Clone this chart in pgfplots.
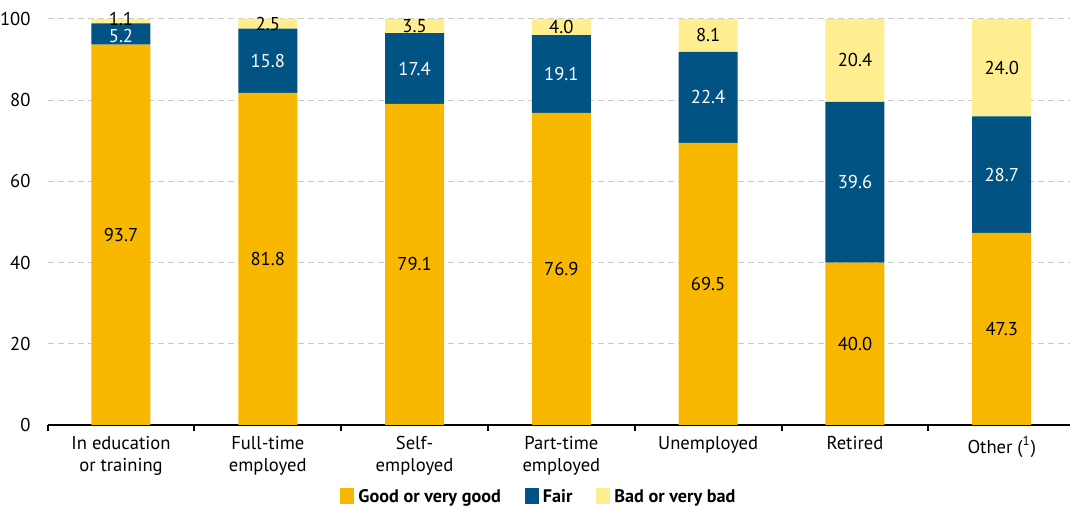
\documentclass[border=0pt]{standalone}
\usepackage{pgfplots}
\pgfplotsset{compat=1.18}
\usepackage{pgfplotstable}
\usepackage{fontspec}
\setmainfont{PT Sans}
\definecolor{cgood}{HTML}{F9B800}
\definecolor{cfair}{HTML}{005382}
\definecolor{cbad}{HTML}{FEEE90}
\definecolor{cgrid}{HTML}{C8C8C8}

\pgfplotstableread{
x good fair bad
0 93.7 5.2 1.1
1 81.8 15.8 2.5
2 79.1 17.4 3.5
3 76.9 19.1 4.0
4 69.5 22.4 8.1
5 40.0 39.6 20.4
6 47.3 28.7 24.0
}\datatable

% label positions (segment middles) and label texts
\pgfplotstableread{
x ygood lgood yfair lfair ybad lbad
0 46.85 93.7 95.90 5.2 100.0 1.1
1 40.90 81.8 89.70 15.8 98.85 2.5
2 39.55 79.1 87.80 17.4 98.25 3.5
3 38.45 76.9 86.45 19.1 98.00 4.0
4 34.75 69.5 80.70 22.4 95.95 8.1
5 20.00 40.0 59.80 39.6 89.80 20.4
6 23.65 47.3 61.65 28.7 88.00 24.0
}\labeltable

\begin{document}
\fontsize{9.3}{11}\selectfont
\begin{tikzpicture}
\path[use as bounding box] (-23.8pt,-40.5pt) rectangle (511.2pt,212.5pt);
\pgfplotsset{
  common/.style={
    scale only axis, width=511.2pt, height=203pt,
    xmin=-0.5, xmax=6.465, ymin=0, ymax=100,
    font=\fontsize{9.3}{11}\selectfont,
  }
}
\begin{axis}[common,
  ybar stacked, bar width=29.5pt,
  axis x line*=bottom, axis y line*=left,
  y axis line style={draw=none},
  x axis line style={line width=1pt, black},
  ytick={0,20,40,60,80,100},
  ytick style={draw=none},
  yticklabel style={xshift=-1pt},
  /pgf/number format/assume math mode=true,
  ymajorgrids, grid style={cgrid, line width=0.5pt, dash pattern=on 3pt off 2pt},
  xtick={0,1,2,3,4,5,6},
  xticklabels={In education\\or training, Full-time\\employed, Self-\\employed, Part-time\\employed, Unemployed, Retired, Other (\textsuperscript{1})},
  xticklabel style={align=center, yshift=2pt},
  major x tick style={draw=none},
  minor xtick={-0.5,0.5,1.5,2.5,3.5,4.5,5.5},
  minor x tick style={line width=1pt, black},
  minor tick length=3pt,
  tick align=outside,
  legend columns=3,
  legend style={at={(axis description cs:0.4816,-0.178)}, anchor=center, draw=none, fill=none,
    font=\fontsize{9.1}{10}\selectfont\bfseries,
    /tikz/every even column/.append style={column sep=10pt}},
  legend image code/.code={\fill[#1] (0pt,-3.5pt) rectangle (7pt,4.7pt);},
]
\addplot[fill=cgood, draw=none] table[x=x, y=good] {\datatable};
\addlegendentry{Good or very good}
\addplot[fill=cfair, draw=none] table[x=x, y=fair] {\datatable};
\addlegendentry{Fair}
\addplot[fill=cbad, draw=none] table[x=x, y=bad] {\datatable};
\addlegendentry{Bad or very bad}
\end{axis}
\begin{axis}[common, hide axis, clip=false]
\addplot[draw=none, mark=none, nodes near coords, point meta=explicit symbolic,
  every node near coord/.append style={anchor=center, text=black, font=\fontsize{9.3}{10}\selectfont}]
  table[x=x, y=ygood, meta=lgood] {\labeltable};
\addplot[draw=none, mark=none, nodes near coords, point meta=explicit symbolic,
  every node near coord/.append style={anchor=center, text=white, font=\fontsize{9.3}{10}\selectfont}]
  table[x=x, y=yfair, meta=lfair] {\labeltable};
\addplot[draw=none, mark=none, nodes near coords, point meta=explicit symbolic,
  every node near coord/.append style={anchor=center, text=black, font=\fontsize{9.3}{10}\selectfont}]
  table[x=x, y=ybad, meta=lbad] {\labeltable};
\end{axis}
\end{tikzpicture}
\end{document}
